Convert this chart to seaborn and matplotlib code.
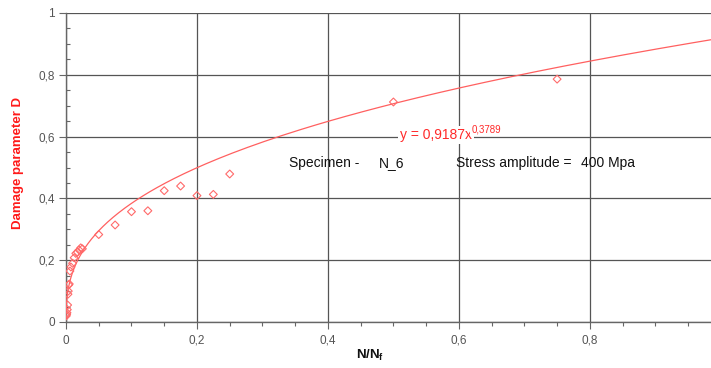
import numpy as np
import pandas as pd
import matplotlib
matplotlib.use("Agg")
import matplotlib.pyplot as plt
import seaborn as sns
from matplotlib.ticker import MultipleLocator, FuncFormatter

# ---- data ----
n_ratio = [0.0005, 0.001, 0.0015, 0.002, 0.0025, 0.003, 0.0035, 0.004, 0.005,
           0.006, 0.0075, 0.01, 0.0125, 0.015, 0.0175, 0.02, 0.0225, 0.025,
           0.05, 0.075, 0.1, 0.125, 0.15, 0.175, 0.2, 0.225, 0.25, 0.5, 0.75]
damage = [0.02, 0.025, 0.03, 0.04, 0.055, 0.09, 0.10, 0.12, 0.123,
          0.165, 0.178, 0.19, 0.208, 0.222, 0.226, 0.233, 0.24, 0.237,
          0.283, 0.314, 0.357, 0.36, 0.425, 0.44, 0.409, 0.413, 0.479, 0.712, 0.786]
fit_a = 0.9187
fit_b = 0.3789
eq_label = "y = 0,9187x"
eq_exp = "0,3789"
info_texts = ["Specimen -", "N_6", "Stress amplitude =", "400 Mpa"]

sns.set_theme(style="white")
plt.rcParams['font.family'] = ['Liberation Sans', 'DejaVu Sans']

fig = plt.figure(figsize=(7.11, 3.68), dpi=100)
W, H = 711, 368
ax = fig.add_axes([66 / W, (H - 322) / H, 645 / W, 309 / H])

pts = pd.DataFrame({'x': n_ratio, 'y': damage})
sns.scatterplot(data=pts, x='x', y='y', ax=ax, marker='D', s=16,
                facecolor='none', edgecolor='#ff6a6a', linewidth=0.8, zorder=4)

xf = np.geomspace(1e-5, 0.985, 400)
fit = pd.DataFrame({'x': xf, 'y': fit_a * xf ** fit_b})
sns.lineplot(data=fit, x='x', y='y', ax=ax, color='#ff6060', linewidth=0.9, zorder=3)

ax.set_xlim(0, 0.985)
ax.set_ylim(0, 1)
ax.xaxis.set_major_locator(MultipleLocator(0.2))
ax.yaxis.set_major_locator(MultipleLocator(0.2))
ax.xaxis.set_minor_locator(MultipleLocator(0.05))
ax.yaxis.set_minor_locator(MultipleLocator(0.05))
fmt = FuncFormatter(lambda v, p: ('%g' % round(v, 2)).replace('.', ','))
ax.xaxis.set_major_formatter(fmt)
ax.yaxis.set_major_formatter(fmt)
ax.grid(True, which='major', color='#555555', linewidth=0.9, zorder=1)
ax.set_axisbelow(True)
for s in ['top', 'right']:
    ax.spines[s].set_visible(False)
for s in ['left', 'bottom']:
    ax.spines[s].set_color('#666666')
    ax.spines[s].set_linewidth(1.0)
ax.tick_params(which='major', direction='out', length=5, width=0.8, color='#666666',
               labelsize=8.5, labelcolor='#555555', left=True, bottom=True)
ax.tick_params(axis='y', which='major', pad=3)
ax.tick_params(axis='x', which='major', pad=4)
ax.tick_params(axis='y', which='minor', direction='in', length=3, width=0.8, color='#666666', left=True)
ax.tick_params(axis='x', which='minor', direction='out', length=3, width=0.8, color='#666666', bottom=True)
ax.set_xlabel('')
ax.set_ylabel('')

# equation
t = ax.text(0.510, 0.605, eq_label, color='#ff2a2a', fontsize=10, va='center', ha='left',
            bbox=dict(facecolor='white', edgecolor='none', pad=1.5), zorder=5)
fig.canvas.draw()
bb = t.get_window_extent()
x_end = ax.transData.inverted().transform((bb.x1, bb.y0))[0]
ax.text(x_end, 0.608, eq_exp, color='#ff2a2a', fontsize=7, va='bottom', ha='left',
        bbox=dict(facecolor='white', edgecolor='none', pad=1.5), zorder=5)

# info text
xs = [0.34, 0.478, 0.595, 0.786]
for xv, s in zip(xs, info_texts):
    ax.text(xv, 0.515, s, fontsize=10, color='#111111', va='center', ha='left', zorder=5)

fig.text(18 / W, (H - 163) / H, 'Damage parameter D', rotation=90, color='#ff1a1a',
         fontsize=9.5, fontweight='bold', ha='center', va='center')
fig.text(370 / W, (H - 355) / H, r'N/N$\mathregular{_f}$', color='#111111',
         fontsize=9.5, fontweight='bold', ha='center', va='center')

fig.savefig('out.png', dpi=100, facecolor='white')
